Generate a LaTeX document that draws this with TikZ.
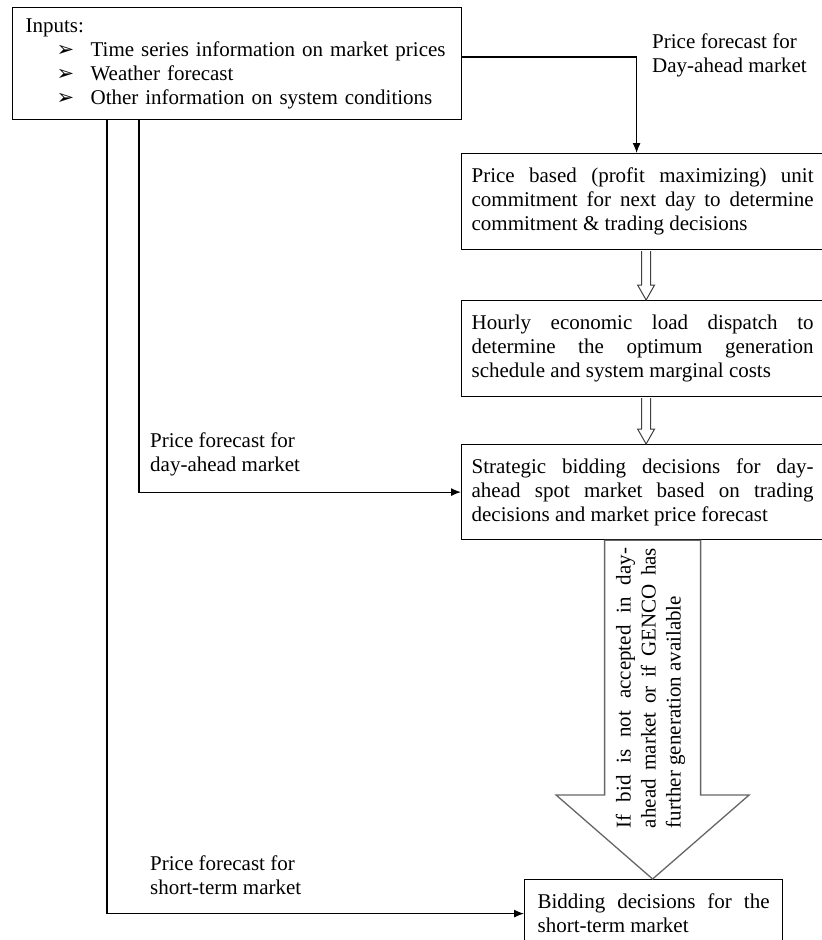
\documentclass[tikz,border=0pt]{standalone}
\usepackage{fontspec}
\setmainfont{Liberation Serif}
\newfontfamily\dejavu{DejaVu Sans}
\usetikzlibrary{arrows.meta,calc}
\newcommand\bul{{\dejavu\bfseries\fontsize{21pt}{24pt}\selectfont ➢}}
\newcommand\hollowarr[2]{\draw[hollow] ($(#1)+(-4.5,0.8)$) -- ($(#2)+(-4.5,-15)$) -- ($(#2)+(-8.5,-15)$) -- (#2) -- ($(#2)+(8.5,-15)$) -- ($(#2)+(4.5,-15)$) -- ($(#1)+(4.5,0.8)$);}
\begin{document}
\begin{tikzpicture}[x=1pt,y=-1pt,
  every node/.style={font=\fontsize{21pt}{24pt}\selectfont},
  box/.style={draw=black,line width=1.2pt,rectangle,inner xsep=10pt,text width=342pt,align=justify,minimum height=96pt,anchor=north west},
  lbl/.style={inner sep=0pt,align=left,anchor=west},
  arr/.style={line width=1.2pt,-{Latex[length=10pt,width=8pt]}},
  hollow/.style={draw=black!75,line width=1pt,fill=white},
  bigarr/.style={draw=black!60,line width=1.3pt,fill=white}]
\useasboundingbox (0,0) rectangle (822,940);

% input box
\node[draw=black,line width=1.2pt,rectangle,anchor=north west,minimum width=449pt,text width=423pt,inner xsep=13pt,minimum height=112pt,align=left] (inp) at (12,7)
 {Inputs:\\
  \hspace*{31pt}\makebox[34pt][l]{\bul}Time series information on market prices\\
  \hspace*{31pt}\makebox[34pt][l]{\bul}Weather forecast\\
  \hspace*{31pt}\makebox[34pt][l]{\bul}Other information on system conditions};

% process boxes
\node[box] (box2) at (461,153) {Price based (profit maximizing) unit\linebreak commitment for next day to determine\linebreak commitment \& trading decisions\par\vspace*{10pt}};
\node[box] (box3) at (461,300) {Hourly economic load dispatch to\linebreak determine the optimum generation\linebreak schedule and system marginal costs\par\vspace*{10pt}};
\node[box,minimum height=95pt] (box4) at (461,444) {Strategic bidding decisions for day-\linebreak ahead spot market based on trading\linebreak decisions and market price forecast\par\vspace*{8pt}};
\node[box,text width=232pt,inner xsep=13pt,minimum height=68pt] (box5) at (524,879) {Bidding decisions for the\linebreak short-term market};

% labels
\node[lbl] (l1) at (652,55) {Price forecast for\\Day-ahead market};
\node[lbl] (l2) at (150,454.5) {Price forecast for\\day-ahead market};
\node[lbl] (l3) at (150,875) {Price forecast for\\short-term market};

% connectors
\draw[arr] ($(inp.north east)+(0,50)$) -| ($(box2.north)+(-6,0)$);
\draw[arr] ($(inp.south west)+(95,0)$) |- (box5.west);
\draw[arr] ($(inp.south west)+(127,0)$) |- (box4.west);

% hollow arrows
\coordinate (a1) at ($(box2.south)+(3.5,0)$);
\coordinate (a2) at ($(box3.north)+(3.5,0)$);
\coordinate (a3) at ($(box3.south)+(3.5,0)$);
\coordinate (a4) at ($(box4.north)+(3.5,0)$);
\hollowarr{a1}{a2}
\hollowarr{a3}{a4}

% big block arrow
\coordinate (tip) at ($(box5.north)+(-1,0)$);
\coordinate (hl) at ($(tip)+(-96.5,-84)$);
\coordinate (sl) at ($(tip)+(-48,-84)$);
\coordinate (sr) at ($(tip)+(48,-84)$);
\coordinate (hr) at ($(tip)+(96.5,-84)$);
\draw[bigarr] (tip) -- (hl) -- (sl) -- (sl |- box4.south) -- (sr |- box4.south) -- (sr) -- (hr) -- cycle;
\node[rotate=90,text width=280pt,align=justify,inner sep=0pt,font=\fontsize{21pt}{25pt}\selectfont] (bigtxt) at ($(tip)+(-2,-191)$)
 {If bid is not accepted in day-\linebreak ahead market or if GENCO has\linebreak further generation available};
\end{tikzpicture}
\end{document}
